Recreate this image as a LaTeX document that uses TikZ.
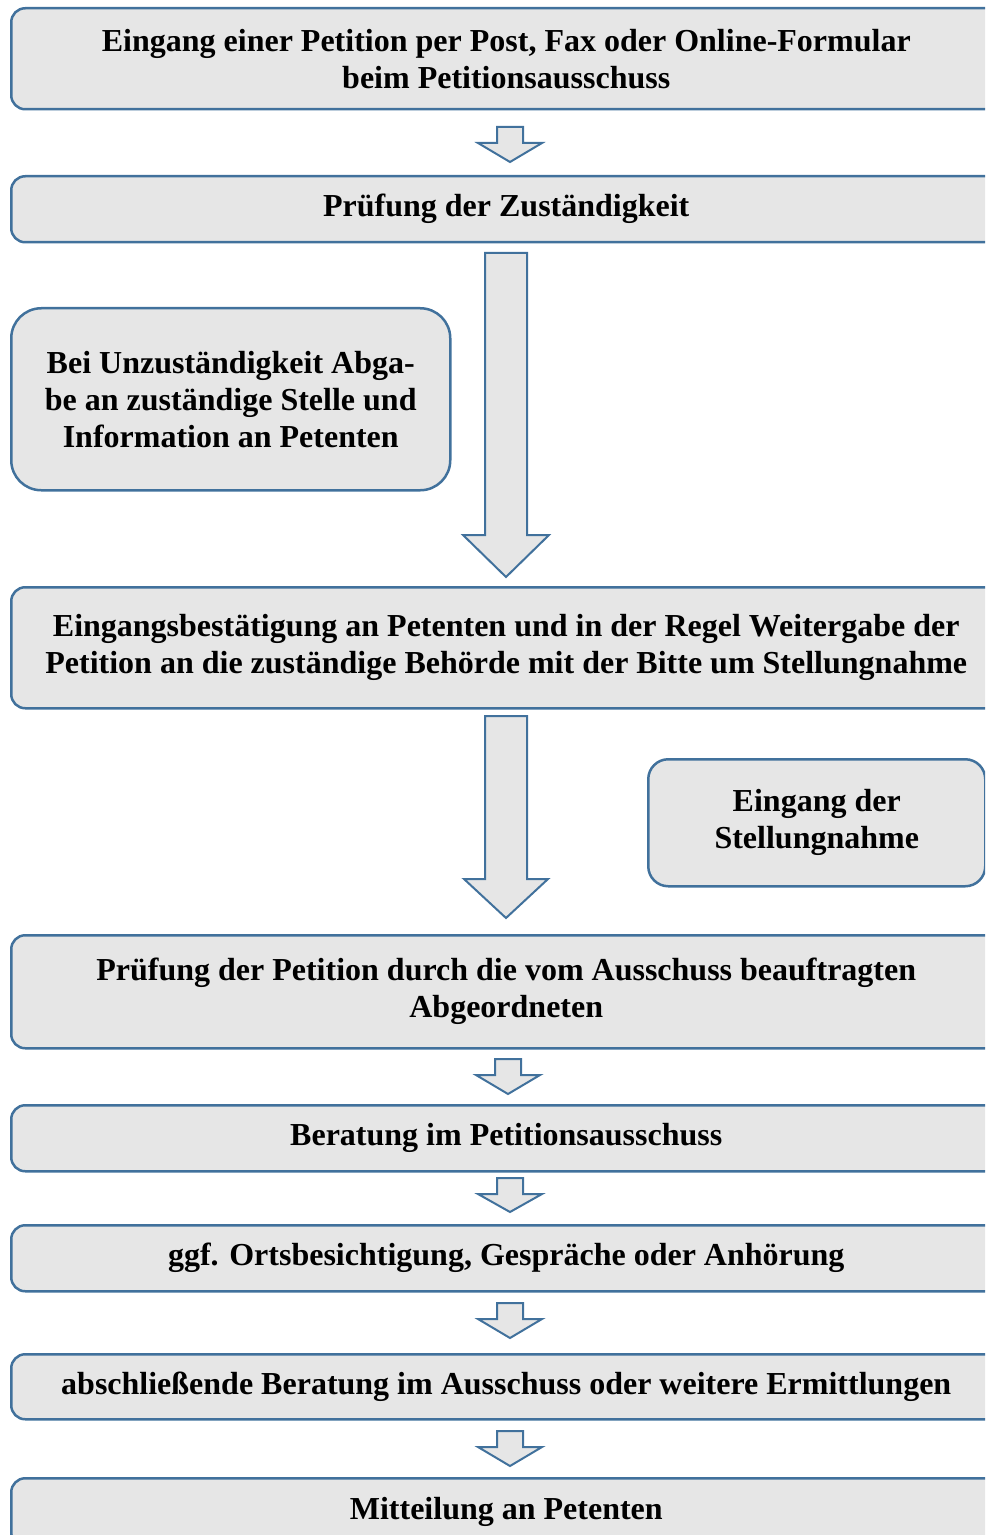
\documentclass[tikz,border=0pt]{standalone}
\usepackage{fontspec}
\setmainfont{Liberation Serif}
\definecolor{bordblue}{RGB}{65,113,156}
\definecolor{boxgray}{RGB}{230,230,230}
\newcommand\blockarr[6]{%
  \draw[arr] (#1-#5,#2) -- (#1+#5,#2) -- (#1+#5,#3) -- (#1+#6,#3) -- (#1,#4) -- (#1-#6,#3) -- (#1-#5,#3) -- cycle;}
\begin{document}
\begin{tikzpicture}[x=0.5pt,y=-0.5pt,
  box/.style={draw=bordblue, fill=boxgray, line width=1.25pt, rounded corners=7pt,
    anchor=north west, align=center, inner sep=0pt,
    font=\bfseries\fontsize{16}{18.5}\selectfont, text=black},
  arr/.style={draw=bordblue, fill=boxgray, line width=1pt, line join=miter}]
\useasboundingbox (0,0) rectangle (985,1535);
\clip (0,0) rectangle (985,1535);
\node[box, minimum width=495pt, minimum height=50.5pt] (b1) at (10,7)
  {Eingang einer Petition per Post, Fax oder Online-Formular\\beim Petitionsausschuss};
\node[box, minimum width=495pt, minimum height=33pt] (b2) at (10,175)
  {Prüfung der Zuständigkeit};
\node[box, minimum width=219.5pt, minimum height=91pt, rounded corners=15pt] (b3) at (10,307)
  {Bei Unzuständigkeit Abga-\\be an zuständige Stelle und\\Information an Petenten};
\node[box, minimum width=495pt, minimum height=60.5pt] (b4) at (10,586)
  {Eingangsbestätigung an Petenten und in der Regel Weitergabe der\\Petition an die zuständige Behörde mit der Bitte um Stellungnahme};
\node[box, minimum width=168.5pt, minimum height=63.5pt, rounded corners=10pt] (b5) at (647,758)
  {Eingang der\\Stellungnahme};
\node[box, minimum width=495pt, minimum height=56.5pt] (b6) at (10,934)
  {Prüfung der Petition durch die vom Ausschuss beauftragten\\Abgeordneten};
\node[box, minimum width=495pt, minimum height=33pt] (b7) at (10,1104)
  {Beratung im Petitionsausschuss};
\node[box, minimum width=495pt, minimum height=33pt] (b8) at (10,1224)
  {ggf. Ortsbesichtigung, Gespräche oder Anhörung};
\node[box, minimum width=495pt, minimum height=32.5pt] (b9) at (10,1353)
  {abschließende Beratung im Ausschuss oder weitere Ermittlungen};
\node[box, minimum width=495pt, minimum height=34pt, anchor=north west] (b10) at (10,1477)
  {Mitteilung an Petenten};
\blockarr{510}{127}{143}{162}{13}{32}
\blockarr{506}{253}{535}{577}{21}{43}
\blockarr{506}{716}{879}{918}{21}{42}
\blockarr{508}{1059}{1075}{1094}{13}{32}
\blockarr{510}{1178}{1194}{1212}{13}{32}
\blockarr{510}{1303}{1319}{1338}{13}{32}
\blockarr{510}{1431}{1447}{1466}{13}{32}
\end{tikzpicture}
\end{document}
